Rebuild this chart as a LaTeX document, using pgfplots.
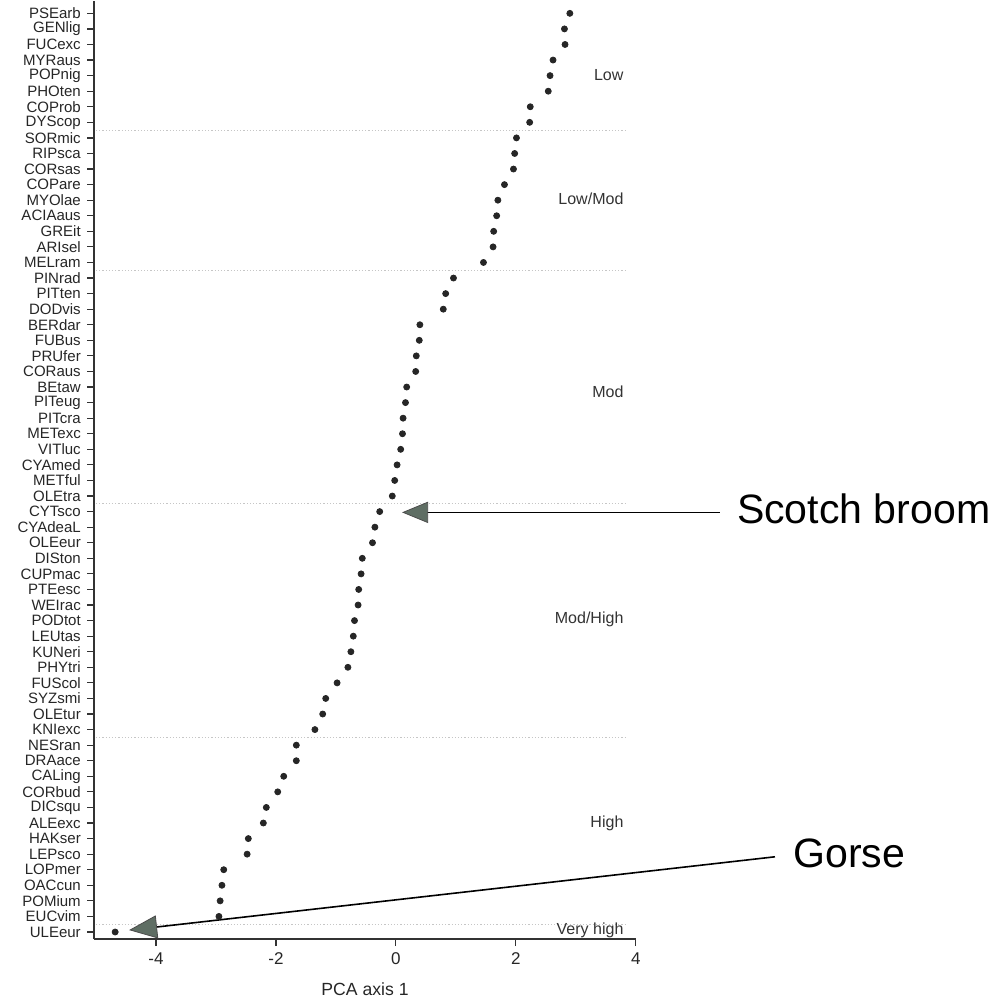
\documentclass[border=0pt]{standalone}
\usepackage{pgfplots}
\pgfplotsset{compat=1.18}
\usepackage{pgfplotstable}
\usepackage{fontspec}
\setmainfont{Liberation Sans}
\definecolor{arrowgrey}{RGB}{95,110,100}

\pgfplotstableread{
pos val
60 2.90
59 2.81
58 2.82
57 2.62
56 2.57
55 2.54
54 2.24
53 2.23
52 2.01
51 1.98
50 1.96
49 1.81
48 1.70
47 1.68
46 1.63
45 1.62
44 1.46
43 0.96
42 0.83
41 0.79
40 0.40
39 0.39
38 0.34
37 0.33
36 0.18
35 0.16
34 0.12
33 0.11
32 0.08
31 0.02
30 -0.02
29 -0.06
28 -0.27
27 -0.35
26 -0.39
25 -0.56
24 -0.58
23 -0.62
22 -0.63
21 -0.69
20 -0.71
19 -0.75
18 -0.80
17 -0.98
16 -1.17
15 -1.22
14 -1.35
13 -1.66
12 -1.66
11 -1.87
10 -1.97
9 -2.16
8 -2.21
7 -2.46
6 -2.48
5 -2.87
4 -2.90
3 -2.93
2 -2.95
1 -4.68
}\pcadata

\begin{document}
\begin{tikzpicture}
\begin{axis}[
  scale only axis,
  width=270.5pt, height=468.5pt,
  xmin=-5.03, xmax=4.0, ymin=0.55, ymax=60.8,
  axis x line*=bottom, axis y line*=left,
  axis line style={black!80, line width=0.9pt, -},
  xtick={-4,-2,0,2,4},
  ytick={1,...,60},
  yticklabels={ULEeur,EUCvim,POMium,OACcun,LOPmer,LEPsco,HAKser,ALEexc,DICsqu,CORbud,CALing,DRAace,NESran,KNIexc,OLEtur,SYZsmi,FUScol,PHYtri,KUNeri,LEUtas,PODtot,WEIrac,PTEesc,CUPmac,DISton,OLEeur,CYAdeaL,CYTsco,OLEtra,METful,CYAmed,VITluc,METexc,PITcra,PITeug,BEtaw,CORaus,PRUfer,FUBus,BERdar,DODvis,PITten,PINrad,MELram,ARIsel,GREit,ACIAaus,MYOlae,COPare,CORsas,RIPsca,SORmic,DYScop,COProb,PHOten,POPnig,MYRaus,FUCexc,GENlig,PSEarb},
  tick style={black!80, line width=0.6pt},
  tick align=outside,
  major tick length=3.5pt,
  y tick label style={font=\fontsize{7.5}{8}\selectfont, inner sep=1pt, xshift=-2pt, text=black!85},
  x tick label style={font=\fontsize{8.5}{9}\selectfont, text=black!85},
  xlabel={PCA axis 1},
  xlabel style={font=\fontsize{8.8}{10}\selectfont, text=black!85, yshift=-2pt},
  clip=false,
  /pgf/number format/assume math mode=true,
]
% bounding box matching the reference proportions
\path (axis cs:-6.6,60.81) rectangle (axis cs:10.12,-3.56);

% group separators
\addplot[gray!45, densely dotted, line width=0.6pt] coordinates {(-5.0,52.5) (3.82,52.5)};
\addplot[gray!45, densely dotted, line width=0.6pt] coordinates {(-5.0,43.5) (3.82,43.5)};
\addplot[gray!45, densely dotted, line width=0.6pt] coordinates {(-5.0,28.5) (3.82,28.5)};
\addplot[gray!45, densely dotted, line width=0.6pt] coordinates {(-5.0,13.5) (3.82,13.5)};
\addplot[gray!45, densely dotted, line width=0.6pt] coordinates {(-5.0,1.5) (3.82,1.5)};

\addplot[only marks, mark=*, mark size=1.5pt, color=black!85] table[x=val, y=pos] {\pcadata};

% group labels
\begin{scope}[every node/.style={anchor=east, font=\fontsize{8}{9}\selectfont, text=black!80, inner sep=0pt}]
\node at (axis cs:3.8,56.05) {Low};
\node at (axis cs:3.8,48.1) {Low/Mod};
\node at (axis cs:3.8,35.7) {Mod};
\node at (axis cs:3.8,21.1) {Mod/High};
\node at (axis cs:3.8,8.0) {High};
\node at (axis cs:3.8,1.1) {Very high};
\end{scope}

% Scotch broom arrow
\draw[black, line width=0.8pt] (axis cs:5.4,27.95) -- (axis cs:0.5,27.95);
\filldraw[fill=arrowgrey, draw=black!70, line width=0.4pt] (axis cs:0.12,27.95) -- (axis cs:0.53,28.6) -- (axis cs:0.53,27.3) -- cycle;
\node[anchor=west, inner sep=0pt, font=\fontsize{20.5}{24}\selectfont] at (axis cs:5.68,28.2) {Scotch broom};

% Gorse arrow
\draw[black, line width=0.8pt] (axis cs:6.32,5.83) -- (axis cs:-3.99,1.32);
\filldraw[fill=arrowgrey, draw=black!70, line width=0.4pt] (axis cs:-4.43,1.13) -- (axis cs:-3.97,0.62) -- (axis cs:-4.01,2.03) -- cycle;
\node[anchor=west, inner sep=0pt, font=\fontsize{20.5}{24}\selectfont] at (axis cs:6.62,6.02) {Gorse};
\end{axis}
\end{tikzpicture}
\end{document}
